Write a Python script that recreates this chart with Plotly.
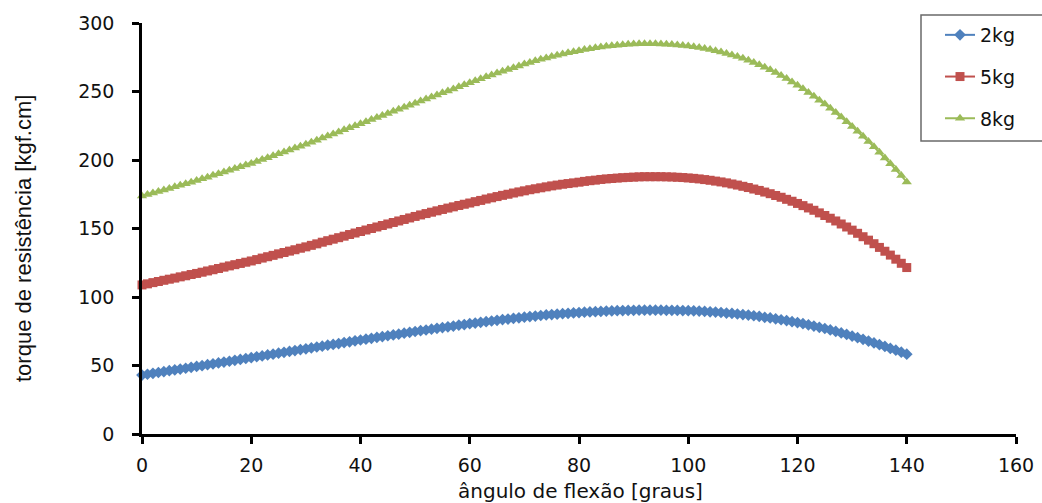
import plotly.graph_objects as go

# flexion angle (degrees), one reading per degree
angulos = list(range(0, 141))

torque_2kg = [
    43.0, 43.6, 44.3, 44.9, 45.5, 46.2, 46.8, 47.4, 48.0, 48.7,
    49.3, 49.9, 50.6, 51.2, 51.9, 52.5, 53.1, 53.8, 54.4, 55.1,
    55.7, 56.4, 57.0, 57.7, 58.3, 59.0, 59.6, 60.3, 60.9, 61.6,
    62.2, 62.8, 63.5, 64.1, 64.8, 65.4, 66.0, 66.7, 67.3, 68.0,
    68.6, 69.2, 69.8, 70.5, 71.1, 71.7, 72.3, 72.9, 73.6, 74.2,
    74.8, 75.4, 75.9, 76.5, 77.1, 77.7, 78.2, 78.8, 79.4, 79.9,
    80.5, 81.0, 81.5, 82.0, 82.5, 83.0, 83.5, 83.9, 84.4, 84.8,
    85.3, 85.7, 86.1, 86.5, 86.9, 87.2, 87.5, 87.8, 88.1, 88.4,
    88.6, 88.9, 89.1, 89.3, 89.5, 89.7, 89.8, 90.0, 90.1, 90.2,
    90.3, 90.4, 90.4, 90.4, 90.4, 90.4, 90.3, 90.3, 90.2, 90.1,
    90.0, 89.9, 89.7, 89.5, 89.2, 89.0, 88.7, 88.3, 88.0, 87.6,
    87.2, 86.8, 86.3, 85.8, 85.2, 84.7, 84.1, 83.4, 82.8, 82.0,
    81.3, 80.5, 79.7, 78.8, 77.9, 77.0, 76.0, 74.9, 73.8, 72.7,
    71.5, 70.3, 69.1, 67.8, 66.5, 65.2, 63.9, 62.5, 61.2, 59.7, 58.3,
]

torque_5kg = [
    108.8, 109.6, 110.5, 111.3, 112.2, 113.0, 113.8, 114.7, 115.5, 116.4,
    117.2, 118.1, 119.0, 119.9, 120.8, 121.8, 122.7, 123.6, 124.5, 125.4,
    126.3, 127.3, 128.4, 129.4, 130.4, 131.5, 132.5, 133.5, 134.5, 135.6,
    136.6, 137.7, 138.8, 140.0, 141.1, 142.2, 143.3, 144.4, 145.6, 146.7,
    147.8, 148.9, 150.0, 151.1, 152.2, 153.3, 154.4, 155.5, 156.6, 157.7,
    158.8, 159.9, 160.9, 161.9, 162.9, 163.9, 164.9, 165.8, 166.8, 167.7,
    168.6, 169.6, 170.5, 171.5, 172.4, 173.3, 174.2, 175.0, 175.9, 176.7,
    177.5, 178.3, 179.0, 179.7, 180.4, 181.1, 181.7, 182.3, 182.8, 183.3,
    183.8, 184.4, 184.9, 185.3, 185.8, 186.2, 186.5, 186.8, 187.1, 187.3,
    187.5, 187.7, 187.8, 187.8, 187.8, 187.8, 187.7, 187.6, 187.4, 187.2,
    186.9, 186.6, 186.2, 185.7, 185.2, 184.6, 184.0, 183.3, 182.5, 181.7,
    180.8, 179.9, 178.8, 177.8, 176.6, 175.4, 174.1, 172.8, 171.3, 169.9,
    168.3, 166.7, 165.0, 163.3, 161.4, 159.5, 157.5, 155.5, 153.3, 151.1,
    148.8, 146.5, 144.0, 141.5, 138.9, 136.2, 133.4, 130.6, 127.6, 124.6, 121.5,
]

torque_8kg = [
    173.8, 174.9, 175.9, 177.0, 178.1, 179.2, 180.4, 181.5, 182.7, 183.8,
    185.0, 186.3, 187.5, 188.8, 190.0, 191.3, 192.5, 193.8, 195.0, 196.3,
    197.5, 198.9, 200.3, 201.7, 203.1, 204.5, 205.9, 207.3, 208.7, 210.1,
    211.5, 213.0, 214.5, 216.0, 217.5, 219.0, 220.5, 222.0, 223.5, 225.0,
    226.5, 228.0, 229.5, 231.0, 232.5, 234.0, 235.5, 237.0, 238.5, 240.0,
    241.5, 243.0, 244.5, 246.0, 247.5, 249.0, 250.4, 251.9, 253.4, 254.9,
    256.4, 257.9, 259.3, 260.7, 262.1, 263.5, 264.8, 266.1, 267.4, 268.7,
    270.0, 271.2, 272.4, 273.5, 274.5, 275.5, 276.5, 277.4, 278.2, 279.0,
    279.8, 280.6, 281.2, 281.9, 282.4, 283.0, 283.4, 283.8, 284.1, 284.4,
    284.6, 284.8, 284.8, 284.9, 284.8, 284.7, 284.5, 284.3, 284.0, 283.6,
    283.2, 282.7, 282.1, 281.4, 280.7, 279.8, 278.9, 277.8, 276.7, 275.5,
    274.2, 272.8, 271.2, 269.5, 267.7, 265.8, 263.8, 261.6, 259.4, 257.0,
    254.5, 252.0, 249.3, 246.6, 243.7, 240.8, 237.7, 234.6, 231.3, 228.0,
    224.5, 221.0, 217.3, 213.5, 209.6, 205.7, 201.5, 197.3, 193.0, 188.6, 184.0,
]

series_names = ["2kg", "5kg", "8kg"]
x_ticks = [0, 20, 40, 60, 80, 100, 120, 140, 160]
y_ticks = [0, 50, 100, 150, 200, 250, 300]
x_title = "ângulo de flexão [graus]"
y_title = "torque de resistência [kgf.cm]"

styles = [
    dict(color="#4F81BD", symbol="diamond", size=9),
    dict(color="#C0504D", symbol="square", size=9),
    dict(color="#9BBB59", symbol="triangle-up", size=9),
]

W, H = 1042, 503
L, R, T, B = 142, 26, 23, 69
PW, PH = W - L - R, H - T - B


def px_to_paper_x(px):
    return (px - L) / PW


def px_to_paper_y(py):
    return (H - B - py) / PH


fig = go.Figure()
for name, vals, st in zip(series_names, [torque_2kg, torque_5kg, torque_8kg], styles):
    fig.add_trace(go.Scatter(
        x=angulos, y=vals, name=name, mode="lines+markers",
        legendgroup=name,
        line=dict(color=st["color"], width=2),
        marker=dict(color=st["color"], symbol=st["symbol"], size=st["size"],
                    line=dict(width=0)),
        cliponaxis=False,
    ))

font_main = "DejaVu Sans, Verdana, sans-serif"
axis_font = dict(family=font_main, size=19, color="#111111")

fig.update_layout(
    width=W, height=H,
    margin=dict(l=L, r=R, t=T, b=B, autoexpand=False),
    paper_bgcolor="white", plot_bgcolor="white",
    showlegend=True,
    legend=dict(
        x=px_to_paper_x(940), y=px_to_paper_y(16), xanchor="left", yanchor="top",
        borderwidth=0, bgcolor="rgba(0,0,0,0)",
        font=dict(family=font_main, size=19, color="#111111"),
        tracegroupgap=14,
    ),
    xaxis=dict(
        range=[0, 160], tickvals=x_ticks, ticktext=[str(v) for v in x_ticks],
        showgrid=False, zeroline=False, showline=True, linecolor="black", linewidth=2.5,
        ticks="outside", ticklen=7, tickwidth=2.5, tickcolor="black",
        tickfont=axis_font, ticklabelstandoff=5, automargin=False,
    ),
    yaxis=dict(
        range=[0, 300], tickvals=y_ticks, ticktext=[str(v) for v in y_ticks],
        showgrid=False, zeroline=False, showline=True, linecolor="black", linewidth=2.5,
        ticks="outside", ticklen=7, tickwidth=2.5, tickcolor="black",
        tickfont=axis_font, ticklabelstandoff=14, automargin=False,
    ),
    shapes=[dict(
        type="rect", xref="paper", yref="paper",
        x0=px_to_paper_x(921), x1=px_to_paper_x(1050),
        y0=px_to_paper_y(141), y1=px_to_paper_y(15),
        line=dict(color="#6a6a6a", width=1.5), fillcolor="rgba(0,0,0,0)",
    )],
    annotations=[
        dict(text=x_title, xref="paper", yref="paper",
             x=px_to_paper_x(580), y=px_to_paper_y(491), xanchor="center", yanchor="middle",
             showarrow=False, font=dict(family=font_main, size=20, color="#111111")),
        dict(text=y_title, xref="paper", yref="paper", textangle=-90,
             x=px_to_paper_x(23), y=px_to_paper_y(239), xanchor="center", yanchor="middle",
             showarrow=False,
             font=dict(family="Liberation Sans, Arial, sans-serif", size=22, color="#111111")),
    ],
)

fig.write_html("out.html", config={"displayModeBar": False},
               post_script="document.body.style.margin='0';document.body.style.overflow='hidden';")
